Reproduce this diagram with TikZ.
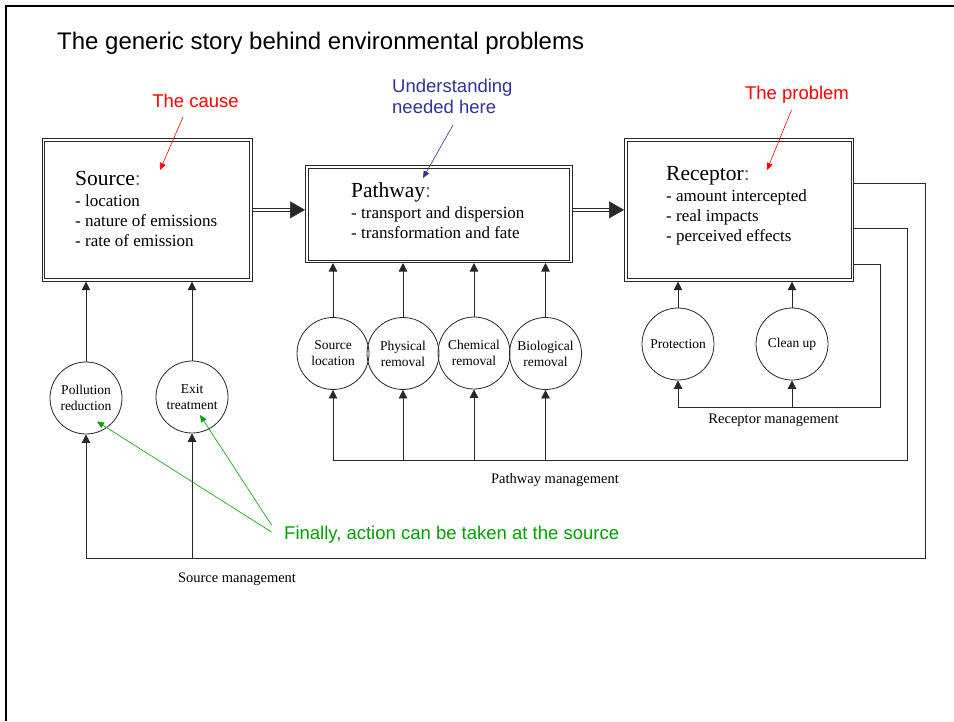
\documentclass[tikz,border=0pt]{standalone}
\usepackage{fontspec}
\setmainfont{Liberation Serif}
\newfontfamily\arial{Liberation Sans}
\usetikzlibrary{arrows.meta}
\definecolor{annred}{RGB}{255,0,0}
\definecolor{annblue}{RGB}{51,51,153}
\definecolor{anngreen}{RGB}{0,160,0}
\definecolor{ink}{RGB}{40,40,40}
\begin{document}
\begin{tikzpicture}[x=1pt,y=-1pt,
  bigbox/.style={draw=ink, double, double distance=1.5pt, line width=1pt, inner sep=0pt, outer sep=1.75pt},
  ball/.style={draw=ink, circle, line width=0.8pt, minimum size=72pt, inner sep=0pt, align=center, font=\fontsize{13.5}{16}\selectfont},
  head/.style={anchor=base west, inner sep=0pt, font=\fontsize{21.5}{24}\selectfont},
  item/.style={anchor=base west, inner sep=0pt, font=\fontsize{17}{20}\selectfont},
  mgmt/.style={anchor=base, inner sep=0pt, font=\fontsize{14.5}{17}\selectfont},
  wire/.style={draw=ink, line width=0.8pt},
  up/.style={wire, -{Triangle[length=8.5pt,width=8.5pt]}},
  shaft/.style={draw=ink, double, double distance=2.2pt, line width=0.8pt},
  bighead/.style={draw=ink, line width=0.5pt, -{Triangle[length=15pt,width=17pt]}},
  ann/.style={anchor=base, inner sep=0pt, font=\arial\fontsize{18.5}{22}\selectfont},
  annarrow/.style={line width=0.6pt, -{Triangle[length=7pt,width=6pt]}}
]
\fill[white] (0,0) rectangle (954,721);
\useasboundingbox (0,0) rectangle (954,721);
\draw[line width=2.5pt, black] (6,721) -- (6,6) -- (954,6);

% title
\node[anchor=base west, inner sep=0pt, font=\arial\fontsize{24}{28}\selectfont] (title) at (57,49) {The generic story behind environmental problems};

% main boxes
\node[bigbox, minimum width=207.5pt, minimum height=140.2pt] (src) at (147.2,209.85) {};
\node[bigbox, minimum width=264.2pt, minimum height=94.5pt] (pw) at (438.85,214) {};
\node[bigbox, minimum width=226.5pt, minimum height=140.2pt] (rc) at (739,209.85) {};

% box texts
\node[head] (sh) at (75,185) {Source\textcolor{black!55}{:}};
\node[item] (s1) at (75,206) {- location};
\node[item] (s2) at (75,226) {- nature of emissions};
\node[item] (s3) at (75,246.5) {- rate of emission};

\node[head] (ph0) at (351,197) {Pathway\textcolor{black!55}{:}};
\node[item] (p1) at (351,218) {- transport and dispersion};
\node[item] (p2) at (351,238) {- transformation and fate};

\node[head] (rh) at (666,180) {Receptor\textcolor{black!55}{:}};
\node[item] (r1) at (666,201) {- amount intercepted};
\node[item] (r2) at (666,221.5) {- real impacts};
\node[item] (r3) at (666,241.5) {- perceived effects};

% big arrows between boxes
\draw[shaft] (src.east) -- ([xshift=-14pt]src.east -| pw.west);
\draw[bighead] ([xshift=-15pt]src.east -| pw.west) -- (src.east -| pw.west);
\draw[shaft] (pw.east |- rc.west) -- ([xshift=-14pt]rc.west);
\draw[bighead] ([xshift=-15pt]rc.west) -- (rc.west);

% circles
\node[ball] (pr) at (86,398) {Pollution\\reduction};
\node[ball] (et) at (192,397) {Exit\\treatment};
\node[ball] (sl) at (333,353.5) {Source\\location};
\node[ball] (phr) at (403,353.5) {Physical\\removal};
\node[ball] (chr) at (474,353) {Chemical\\removal};
\node[ball] (bir) at (545.5,353.5) {Biological\\removal};
\node[ball] (pt) at (678,344) {Protection};
\node[ball] (cu) at (792,344) {Clean up};

% arrows from circles to boxes
\draw[up] (pr.north) -- (pr.north |- src.south);
\draw[up] (et.north) -- (et.north |- src.south);
\draw[up] (sl.north) -- (sl.north |- pw.south);
\draw[up] (phr.north) -- (phr.north |- pw.south);
\draw[up] (chr.north) -- (chr.north |- pw.south);
\draw[up] (bir.north) -- (bir.north |- pw.south);
\draw[up] (pt.north) -- (pt.north |- rc.south);
\draw[up] (cu.north) -- (cu.north |- rc.south);

% management loops
\coordinate (smR) at (925,558);
\coordinate (pmR) at (907,460);
\coordinate (rmR) at (880,407);
\draw[up] (rc.east |- 0,183) -| (smR) -| (pr.south);
\draw[up] (et.south |- smR) -- (et.south);
\draw[up] (rc.east |- 0,228) -| (pmR) -| (sl.south);
\draw[up] (phr.south |- pmR) -- (phr.south);
\draw[up] (chr.south |- pmR) -- (chr.south);
\draw[up] (bir.south |- pmR) -- (bir.south);
\draw[up] (rc.east |- 0,264) -| (rmR) -| (pt.south);
\draw[up] (cu.south |- rmR) -- (cu.south);

\node[mgmt] (rml) at (773.5,423) {Receptor management};
\node[mgmt] (pml) at (555,483) {Pathway management};
\node[mgmt] (sml) at (237,582) {Source management};

% annotations
\node[ann, text=annred] (cause) at (195.5,107) {The cause};
\coordinate (causeS) at (183,117);
\draw[annarrow, annred] (causeS) -- (160,170);

\node[ann, anchor=base west, text=annblue] (und1) at (392,92) {Understanding};
\node[ann, anchor=base west, text=annblue] (und2) at (392,113) {needed here};
\coordinate (undS) at (453,125);
\draw[annarrow, annblue] (undS) -- (423,178);

\node[ann, text=annred] (prob) at (797,99) {The problem};
\coordinate (probS) at (791.5,110);
\draw[annarrow, annred] (probS) -- (767,170);

\node[ann, anchor=base west, text=anngreen] (fin) at (284,539) {Finally, action can be taken at the source};
\coordinate (g1) at (271.5,525);
\coordinate (g2) at (271.5,532);
\draw[annarrow, anngreen] (g1) -- (200,415);
\draw[annarrow, anngreen] (g2) -- (97,421.5);
\end{tikzpicture}
\end{document}
